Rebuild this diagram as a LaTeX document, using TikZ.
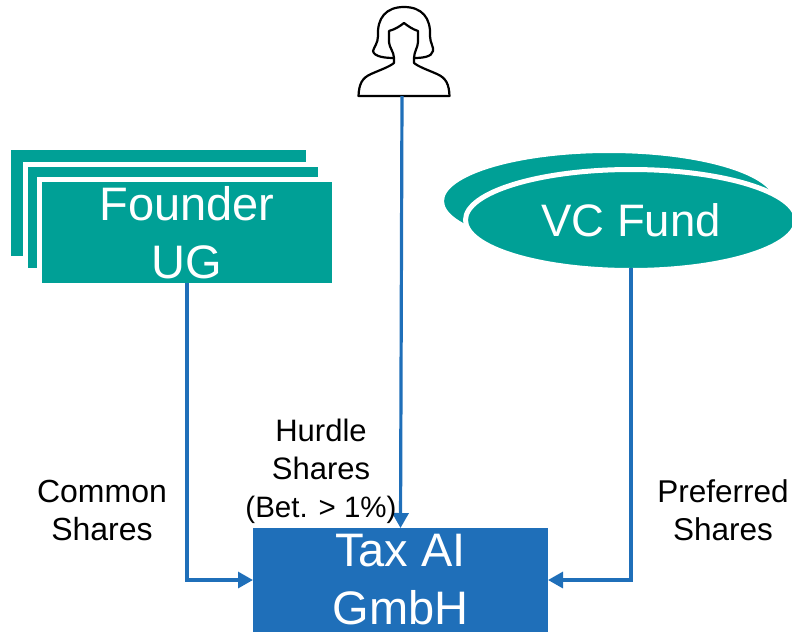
\documentclass[tikz,border=0pt]{standalone}
\usepackage{fontspec}
\setmainfont{Liberation Sans}
\usetikzlibrary{arrows.meta,shapes.geometric}
\definecolor{teal1}{HTML}{00A096}
\definecolor{blue1}{HTML}{1F6FB9}
\tikzset{
  bigtext/.style={text=white,align=center,inner sep=0pt,font=\fontsize{47}{58}\selectfont},
  tealbox/.style={rectangle,fill=teal1,draw=white,line width=5pt,inner sep=0pt,outer sep=0pt,bigtext},
  tealell/.style={ellipse,fill=teal1,draw=white,line width=5pt,inner sep=0pt,outer sep=0pt,bigtext},
  taxbox/.style={rectangle,fill=blue1,inner sep=0pt,outer sep=0pt,bigtext},
  lbl/.style={align=center,inner sep=0pt,text=black,font=\fontsize{32}{38}\selectfont},
  conn/.style={draw=blue1,line width=3.2pt,-{Triangle[length=15pt,width=16pt]}},
  personline/.style={draw=black,line width=2.2pt,line join=round,line cap=round,fill=white}
}
\begin{document}
\begin{tikzpicture}[x=1pt,y=-1pt]
\useasboundingbox (0,0) rectangle (792,632);
% Founder stack
\node[tealbox,minimum width=300pt,minimum height=111pt] (fb1) at (158.5,203) {};
\node[tealbox,minimum width=295pt,minimum height=106pt] (fb2) at (173,217.5) {};
\node[tealbox,minimum width=295pt,minimum height=106pt] (founder) at (187,232.5) {Founder\\UG};
% VC ellipses
\node[tealell,minimum width=335pt,minimum height=101pt] (vcb) at (609,201) {};
\node[tealell,minimum width=331pt,minimum height=101pt,font=\fontsize{45.5}{58}\selectfont] (vc) at (631,220) {VC Fund};
% Tax
\node[taxbox,minimum width=295pt,minimum height=104pt] (tax) at (400.5,580) {Tax AI\\GmbH};
% Person
\coordinate (person) at (402,96);
\draw[personline]
  (358.5,96) .. controls (359,84) and (362,78) .. (371,74)
  .. controls (380,70) and (389,67) .. (394,63)
  -- (394,58)
  .. controls (386,58) and (374,57) .. (373,51)
  .. controls (374,47) and (378,43) .. (378,36)
  .. controls (377,18) and (386,7) .. (404,7)
  .. controls (422,7) and (431,18) .. (430,36)
  .. controls (430,43) and (434,47) .. (433,51)
  .. controls (432,57) and (422,58) .. (414,58)
  -- (414,63)
  .. controls (419,67) and (428,70) .. (437,74)
  .. controls (446,78) and (449,84) .. (449.5,96)
  -- cycle;
\draw[personline,fill=none]
  (394,58) .. controls (394,52) and (389,47) .. (389,42)
  -- (389,31) .. controls (396,29) and (400,26) .. (404,23)
  .. controls (408,26) and (412,29) .. (418,31)
  -- (418,42) .. controls (418,47) and (414,52) .. (414,58);
% Connectors
\draw[conn] (founder.south) ++(0,-2.5) |- (tax.west);
\draw[conn] (person) -- (tax.north);
\draw[conn] (vc.south) ++(0,-2.5) |- (tax.east);
% Labels
\node[lbl] (common) at (102,510) {Common\\Shares};
\node[lbl,font=\fontsize{31}{38}\selectfont] (hurdle) at (321,471) {Hurdle\\Shares\\{\fontsize{29.5}{38}\selectfont (Bet. > 1\%)}};
\node[lbl,font=\fontsize{31.5}{38}\selectfont] (pref) at (723,510) {Preferred\\Shares};
\end{tikzpicture}
\end{document}
